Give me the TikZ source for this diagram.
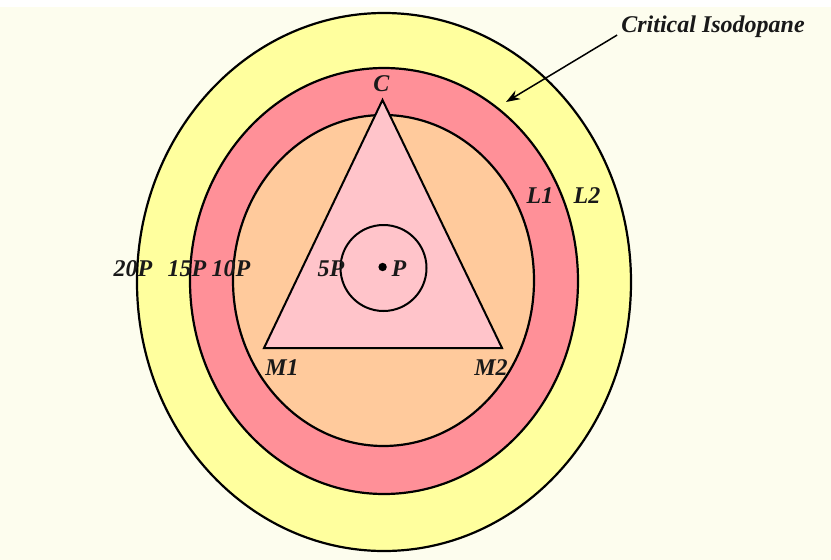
\documentclass[tikz,border=0pt]{standalone}
\usepackage{fontspec}
\setmainfont{Liberation Serif}
\usetikzlibrary{arrows.meta}
\definecolor{bgc}{HTML}{FDFDEE}
\definecolor{yel}{HTML}{FFFF9E}
\definecolor{redband}{HTML}{FF9098}
\definecolor{orng}{HTML}{FFCA9C}
\definecolor{pnk}{HTML}{FFC4CA}
\begin{document}
\begin{tikzpicture}[x=1pt,y=-1pt,
  lbl/.style={font=\fontsize{24}{24}\selectfont\bfseries\itshape, inner sep=0pt, text=black!90},
  ring/.style={draw=black, line width=2.2pt},
  edge/.style={draw=black, line width=2pt, line join=miter}]
\useasboundingbox (0,0) rectangle (831,560);
\fill[bgc] (0,0) rectangle (831,560);
\fill[white] (0,0) rectangle (831,7);
% zones
\draw[ring, fill=yel] (384,282) ellipse [x radius=247, y radius=269];
\draw[ring, fill=redband] (384,281) ellipse [x radius=194, y radius=213];
\draw[ring, fill=orng] (383.5,280.5) ellipse [x radius=150.5, y radius=165.5];
% triangle
\coordinate (C) at (382.5,100);
\coordinate (M1) at (264,348);
\coordinate (M2) at (502,348);
\draw[edge, fill=pnk] (C) -- (M1) -- (M2) -- cycle;
% 5P circle and point
\coordinate (Pc) at (383.5,268);
\draw[edge] (Pc) circle (43);
\fill (382.6,267) circle (4.2);
% labels
\node[lbl] (lC) at (381.5,84) {C};
\node[lbl] (lL1) at (540,196) {L1};
\node[lbl] (lL2) at (587,196) {L2};
\node[lbl] (l20) at (133,269) {20P};
\node[lbl] (l15) at (187,269) {15P};
\node[lbl] (l10) at (231,269) {10P};
\node[lbl] (l5) at (331,269) {5P};
\node[lbl] (lP) at (399,269) {P};
\node[lbl] (lM1) at (282,368) {M1};
\node[lbl] (lM2) at (491,368) {M2};
\node[lbl] (crit) at (713,27) {Critical Isodopane};
\coordinate (tip) at (506,102);
\draw[line width=1.5pt, -{Stealth[length=14pt,width=10pt]}] ([xshift=-4pt,yshift=3pt]crit.south west) -- (tip);
\end{tikzpicture}
\end{document}
